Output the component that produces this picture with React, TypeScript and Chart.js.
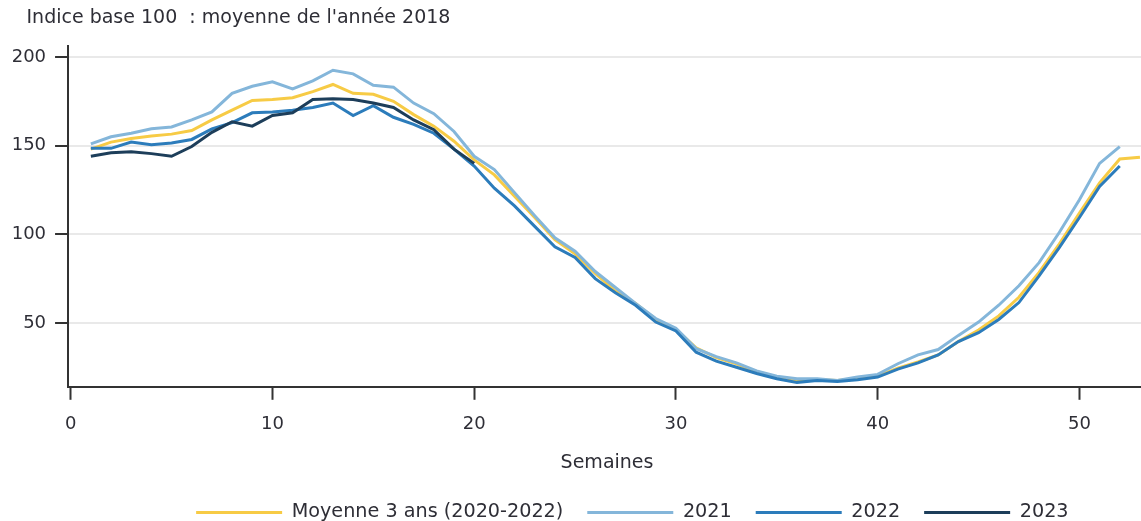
import React, { useEffect, useRef } from "react";
import { Chart, registerables } from "chart.js";

Chart.register(...registerables);

const TITLE = "Indice base 100  : moyenne de l'année 2018";
const X_TITLE = "Semaines";

const weeks = [
  1, 2, 3, 4, 5, 6, 7, 8, 9, 10, 11, 12, 13, 14, 15, 16, 17, 18, 19, 20,
  21, 22, 23, 24, 25, 26, 27, 28, 29, 30, 31, 32, 33, 34, 35, 36, 37, 38, 39, 40,
  41, 42, 43, 44, 45, 46, 47, 48, 49, 50, 51, 52, 53,
];

const seriesNames = ["Moyenne 3 ans (2020-2022)", "2021", "2022", "2023"];

const avg3 = [
  148, 152, 154, 155.5, 156.5, 158.5, 164.5, 170, 175.5, 176,
  177, 180.5, 184.5, 179.5, 179, 175, 167.5, 161, 152.5, 142,
  133.5, 121.5, 109.5, 97, 89, 78, 68, 61, 52, 46.5,
  36, 30.5, 27, 22.5, 19.5, 18, 18, 17.5, 18.5, 20,
  24.5, 28, 32, 39.5, 46, 54, 64.5, 78.5, 94.5, 112,
  129, 142.5, 143.5,
];

const y2021 = [
  151, 155, 157, 159.5, 160.5, 164.5, 169, 179.5, 183.5, 186,
  182, 186.5, 192.5, 190.5, 184, 183, 174, 168, 158, 144,
  136.5, 123.5, 110.5, 98, 90.5, 79, 70, 61, 52.5, 47,
  35.5, 31, 27.5, 23, 20, 18.5, 18.5, 17.5, 19.5, 21,
  27, 32, 35, 43, 50.5, 60, 71, 84, 101, 119.5,
  140, 149.5,
];

const y2022 = [
  148.5, 148.5, 152, 150.5, 151.5, 153.5, 159.5, 163, 168.5, 169,
  170, 171.5, 174, 167, 172.5, 166, 162, 157, 148, 138.5,
  126, 116, 104.5, 93, 87, 75, 67, 60, 50.5, 45.5,
  33.5, 28.5, 25, 21.5, 18.5, 16.5, 17.5, 17, 18, 19.5,
  24, 27.5, 32, 39.5, 44.5, 52, 61.5, 76.5, 92.5, 109.5,
  127, 138.5,
];

const y2023 = [
  144, 146, 146.5, 145.5, 144, 149.5, 157.5, 163.5, 161, 167,
  168.5, 176, 176.5, 176, 174, 171.5, 164.5, 159, 148, 140,
];

const xTicks = [0, 10, 20, 30, 40, 50];
const yTicks = [50, 100, 150, 200];

const colors = ["#F7CB45", "#84B6DA", "#2C7CBB", "#1D3E5A"];

const FONT = '"DejaVu Sans", sans-serif';
const TEXT = "#2e2e36";

const toPoints = (vals: number[]) => vals.map((v, i) => ({ x: weeks[i], y: v }));

const topNote = {
  id: "topNote",
  afterDraw(chart: any) {
    const ctx = chart.ctx;
    ctx.save();
    ctx.font = `19px ${FONT}`;
    ctx.fillStyle = TEXT;
    ctx.textBaseline = "middle";
    ctx.textAlign = "left";
    ctx.fillText(TITLE, 26.5, 18);
    ctx.restore();
  },
};

const LEGEND_SHIFT = 58;
const legendShift = {
  id: "legendShift",
  afterLayout(chart: any) {
    const l = chart.legend;
    if (l) {
      l.left += LEGEND_SHIFT;
      l.right += LEGEND_SHIFT;
    }
  },
};

export default function App() {
  const ref = useRef<HTMLCanvasElement | null>(null);

  useEffect(() => {
    if (!ref.current) return;
    const seriesData = [avg3, y2021, y2022, y2023];
    const chart = new Chart(ref.current, {
      type: "line",
      data: {
        datasets: seriesData.map((vals, i) => ({
          label: seriesNames[i],
          data: toPoints(vals),
          borderColor: colors[i],
          backgroundColor: colors[i],
          borderWidth: 3,
          pointRadius: 0,
          tension: 0,
          fill: false,
          order: 3 - i,
        })),
      },
      plugins: [topNote, legendShift],
      options: {
        animation: false,
        responsive: true,
        maintainAspectRatio: false,
        layout: { padding: { top: 46, left: 2.7, right: 4, bottom: 0 } },
        plugins: {
          tooltip: { enabled: false },
          title: { display: false },
          legend: {
            display: true,
            position: "bottom",
            align: "center",
            labels: {
              boxWidth: 86,
              boxHeight: 3,
              padding: 24,
              color: TEXT,
              font: { family: FONT, size: 19.2 },
              sort: (a: any, b: any) => a.datasetIndex - b.datasetIndex,
              generateLabels: (c: any) =>
                (Chart.defaults.plugins.legend.labels as any)
                  .generateLabels(c)
                  .map((it: any) => ({ ...it, fillStyle: it.strokeStyle, lineWidth: 0 })),
            },
          },
        },
        scales: {
          x: {
            type: "linear",
            min: -0.13,
            max: 53.3,
            afterBuildTicks: (axis: any) => {
              axis.ticks = xTicks.map((v) => ({ value: v }));
            },
            grid: {
              display: true,
              drawOnChartArea: false,
              drawTicks: true,
              tickLength: 13,
              tickWidth: 2,
              tickColor: "#333",
            },
            border: { display: true, color: "#333", width: 2 },
            ticks: {
              color: TEXT,
              font: { family: FONT, size: 18 },
              padding: 14,
              maxRotation: 0,
              autoSkip: false,
            },
            title: {
              display: true,
              text: X_TITLE,
              color: TEXT,
              font: { family: FONT, size: 19 },
              padding: { top: 2, bottom: 4.6 },
            },
          },
          y: {
            type: "linear",
            min: 14,
            max: 206.2,
            afterBuildTicks: (axis: any) => {
              axis.ticks = yTicks.map((v) => ({ value: v }));
            },
            grid: {
              display: true,
              color: "#e9e9e9",
              lineWidth: 2,
              drawTicks: true,
              tickLength: 13,
              tickWidth: 2,
              tickColor: "#333",
            },
            border: { display: true, color: "#333", width: 2 },
            ticks: {
              color: TEXT,
              font: { family: FONT, size: 18 },
              padding: 9,
              autoSkip: false,
            },
          },
        },
      },
    });
    return () => chart.destroy();
  }, []);

  return (
    <div
      style={{
        position: "fixed",
        left: 0,
        top: 0,
        width: 1141,
        height: 521,
        overflow: "hidden",
        background: "#fff",
      }}
    >
      <div style={{ position: "relative", width: 1150, height: 532 }}>
        <canvas ref={ref} />
      </div>
    </div>
  );
}
